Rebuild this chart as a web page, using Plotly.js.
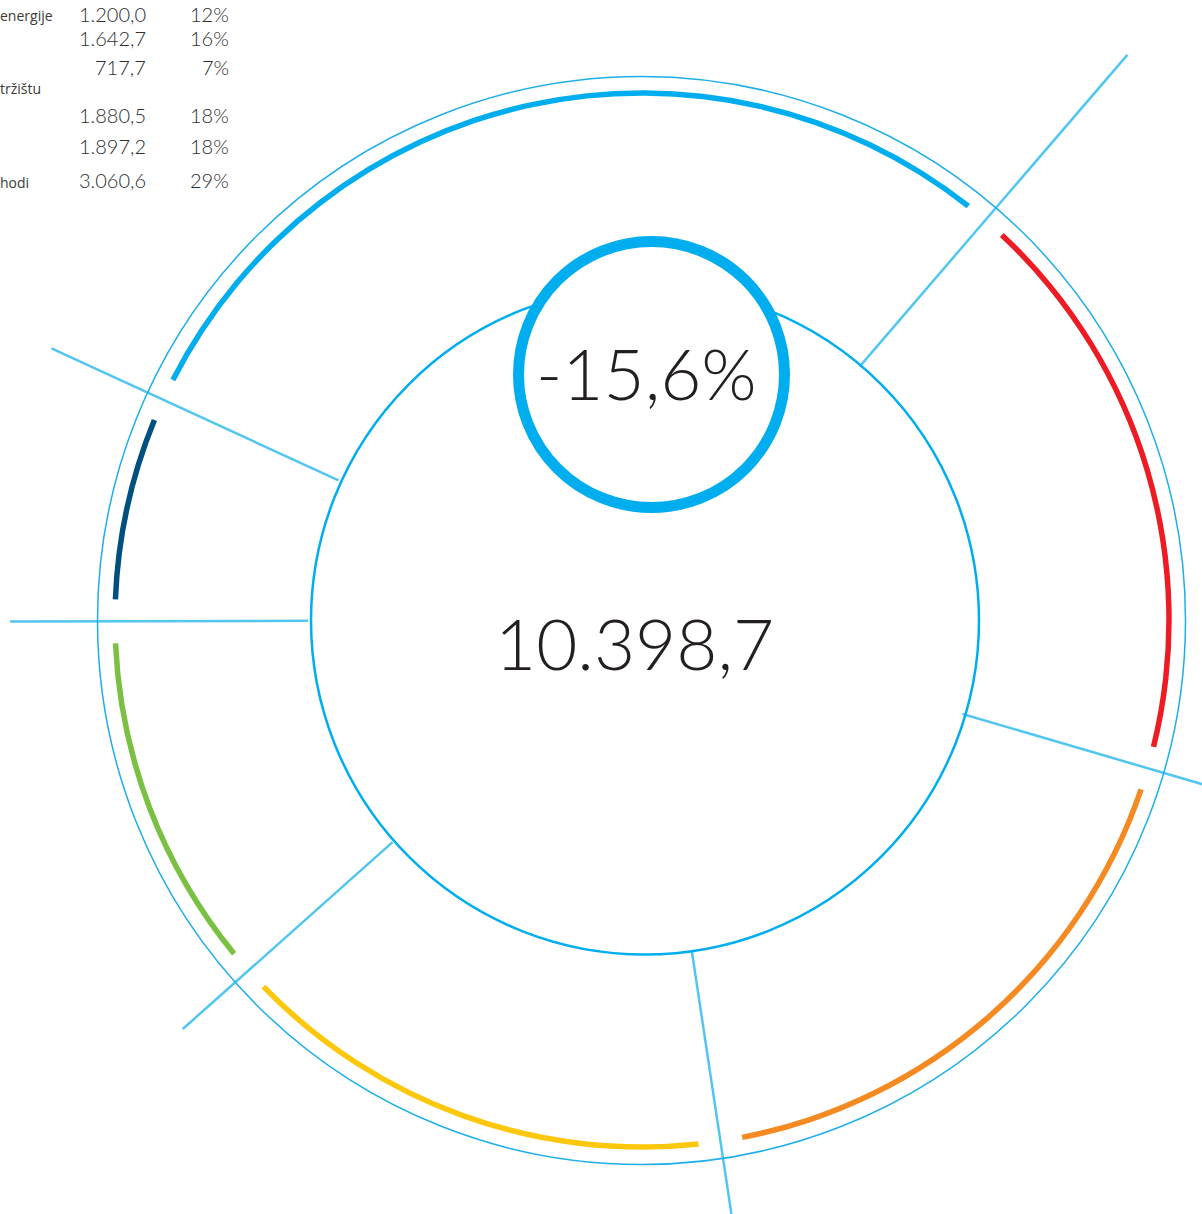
<!DOCTYPE html>
<html>
<head>
<meta charset="utf-8">
<script src="https://cdn.plot.ly/plotly-3.0.1.min.js"></script>
<style>
  html, body { margin: 0; padding: 0; background: #ffffff; }
  #chart { width: 1202px; height: 1214px; }
</style>
</head>
<body>
<div id="chart"></div>
<script>
// ---------------- data ----------------
const labelTails = ["energije", "", "", "tržištu", "", "hodi"];
const values     = [1200.0, 1642.7, 717.7, 1880.5, 1897.2, 3060.6];
const shares     = [12, 16, 7, 18, 18, 29];
const changePct  = -15.6;

// ---------------- styles ----------------
const segColors = ["#7ac143", "#fdc70c", "#00507f", "#f48a21", "#ed1c24", "#00aeef"];
const W = 1202, H = 1214;
const CX = 642, CY = 620;          // pixel centre of the ring
const R = 560;                     // polar radius in px (1 unit = 1 px)
const START = 155.3;               // angle (deg, ccw from east) where the first (largest) segment starts
const GAP = 4.8;                   // angular gap between arcs (deg)
const ARC_R = 527, ARC_W = 5.5;
const INNER_R = 334;
const leaderReach = [650, 745, 620, 620, 615, 632]; // how far each separator runs out
const ink = "#231f20";
const NUMFONT = "Lato, 'Open Sans', sans-serif";

// ---------------- helpers ----------------
function fmt(v, dec) {
  const neg = v < 0;
  const s = Math.abs(v).toFixed(dec);
  let [i, d] = s.split(".");
  i = i.replace(/\B(?=(\d{3})+(?!\d))/g, ".");
  return (neg ? "-" : "") + (d ? i + "," + d : i);
}
const total = values.reduce((a, b) => a + b, 0);

// clockwise order: largest first
const order = values.map((v, i) => i).sort((a, b) => values[b] - values[a]);
const traces = [];
let cum = 0;
const bounds = [];
const thetaMid = [], widths = [], colors = [];
order.forEach(i => {
  const span = values[i] / total * 360;
  bounds.push(cum);
  thetaMid.push(cum + span / 2);
  widths.push(span - GAP);
  colors.push(segColors[i]);
  cum += span;
});

// separator lines (cartesian, 1 unit = 1 px, origin at ring centre)
bounds.forEach((b, k) => {
  const a = (START - b) * Math.PI / 180;
  traces.push({
    type: "scatter", mode: "lines", xaxis: "x", yaxis: "y",
    x: [INNER_R * Math.cos(a), leaderReach[k] * Math.cos(a)],
    y: [INNER_R * Math.sin(a), leaderReach[k] * Math.sin(a)],
    line: { color: "#52c6f0", width: 2.5 },
    hoverinfo: "skip", showlegend: false
  });
});

// coloured arcs
traces.push({
  type: "barpolar",
  theta: thetaMid,
  width: widths,
  r: order.map(() => ARC_W),
  base: order.map(() => ARC_R - ARC_W / 2),
  marker: { color: colors, line: { width: 0 } },
  hoverinfo: "skip", showlegend: false
});

// ---------------- annotations ----------------
const ann = [];
const px = x => x - CX, py = y => CY - y;
ann.push({ x: px(646), y: py(372), xref: "x", yref: "y", text: fmt(changePct, 1) + "%",
  showarrow: false, xanchor: "center", yanchor: "middle",
  font: { family: NUMFONT, size: 71, color: ink, weight: 300 } });
ann.push({ x: px(634), y: py(642), xref: "x", yref: "y", text: fmt(total, 1),
  showarrow: false, xanchor: "center", yanchor: "middle",
  font: { family: NUMFONT, size: 71, color: ink, weight: 300 } });

const rowY = [14, 38, 67, 115, 146, 179.5];
const labelY = [16, null, null, 89, null, 183];
values.forEach((v, i) => {
  ann.push({ x: px(148), y: py(rowY[i]), xref: "x", yref: "y", text: fmt(v, 1),
    showarrow: false, xanchor: "right", yanchor: "middle",
    font: { family: NUMFONT, size: 20, color: "#2e2e2e", weight: 300 } });
  ann.push({ x: px(231), y: py(rowY[i]), xref: "x", yref: "y", text: shares[i] + "%",
    showarrow: false, xanchor: "right", yanchor: "middle",
    font: { family: NUMFONT, size: 20, color: "#2e2e2e", weight: 300 } });
  if (labelTails[i]) {
    ann.push({ x: 0, y: 1 - labelY[i] / H, xref: "paper", yref: "paper", text: labelTails[i],
      showarrow: false, xanchor: "left", yanchor: "middle", xshift: -2,
      font: { family: "'Open Sans', sans-serif", size: 14, color: "#3a3a3a" } });
  }
});

// ---------------- decorative circles ----------------
const circ = (cx, cy, r, color, w, fill) => ({
  type: "circle", xref: "x", yref: "y",
  x0: px(cx) - r, x1: px(cx) + r, y0: py(cy) - r, y1: py(cy) + r,
  line: { color: color, width: w }, fillcolor: fill || "rgba(0,0,0,0)", layer: "above"
});
const shapes = [
  circ(641.5, 620.5, 544, "#1eaee9", 1.5),
  circ(645, 620.5, 334, "#00aeef", 2.5),
  circ(651.5, 374.5, 133, "#00aeef", 11, "#ffffff")
];

const layout = {
  width: W, height: H,
  margin: { l: 0, r: 0, t: 0, b: 0 },
  paper_bgcolor: "#ffffff", plot_bgcolor: "rgba(0,0,0,0)",
  showlegend: false,
  xaxis: { range: [-CX, W - CX], visible: false, fixedrange: true },
  yaxis: { range: [-(H - CY), CY], visible: false, fixedrange: true },
  polar: {
    domain: { x: [(CX - R) / W, (CX + R) / W], y: [(H - CY - R) / H, (H - CY + R) / H] },
    bgcolor: "rgba(0,0,0,0)",
    radialaxis: { range: [0, R], visible: false },
    angularaxis: { rotation: START, direction: "clockwise", visible: false, thetaunit: "degrees" }
  },
  shapes: shapes,
  annotations: ann
};

Plotly.newPlot("chart", traces, layout, { staticPlot: true, displayModeBar: false });
</script>
</body>
</html>
